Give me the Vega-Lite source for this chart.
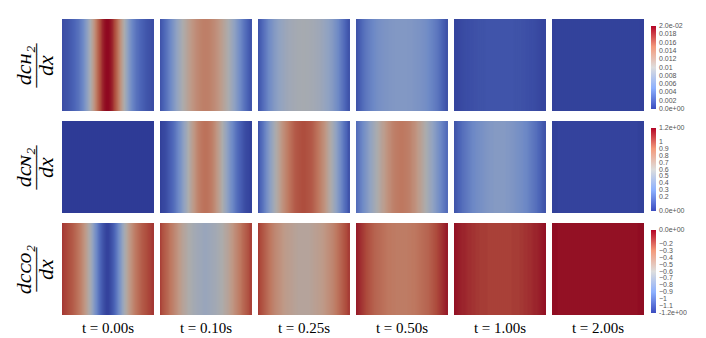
{
"$schema": "https://vega.github.io/schema/vega-lite/v6.json",
"background": "white",
"padding": {"left": 12, "top": 19, "right": 0, "bottom": 0},
"autosize": {"type": "pad"},
"config": {"view": {"stroke": null}, "font": "Liberation Sans"},
"spacing": 9,
"resolve": {"scale": {"fill": "independent", "stroke": "independent", "y": "independent"}, "legend": {"fill": "independent", "stroke": "independent"}},
"datasets": {
"h2": [
{"t":"0.00","i":0,"v":0.0011},{"t":"0.00","i":1,"v":0.0013},{"t":"0.00","i":2,"v":0.0014},{"t":"0.00","i":3,"v":0.0016},{"t":"0.00","i":4,"v":0.0019},{"t":"0.00","i":5,"v":0.0022},{"t":"0.00","i":6,"v":0.0025},{"t":"0.00","i":7,"v":0.003},{"t":"0.00","i":8,"v":0.0034},{"t":"0.00","i":9,"v":0.0041},{"t":"0.00","i":10,"v":0.0048},{"t":"0.00","i":11,"v":0.0058},{"t":"0.00","i":12,"v":0.0069},{"t":"0.00","i":13,"v":0.0083},{"t":"0.00","i":14,"v":0.0098},{"t":"0.00","i":15,"v":0.0114},{"t":"0.00","i":16,"v":0.0131},{"t":"0.00","i":17,"v":0.0148},{"t":"0.00","i":18,"v":0.0163},{"t":"0.00","i":19,"v":0.0176},{"t":"0.00","i":20,"v":0.0187},{"t":"0.00","i":21,"v":0.0194},{"t":"0.00","i":22,"v":0.0198},{"t":"0.00","i":23,"v":0.0198},{"t":"0.00","i":24,"v":0.0194},{"t":"0.00","i":25,"v":0.0187},{"t":"0.00","i":26,"v":0.0176},{"t":"0.00","i":27,"v":0.0163},{"t":"0.00","i":28,"v":0.0148},{"t":"0.00","i":29,"v":0.0131},{"t":"0.00","i":30,"v":0.0114},{"t":"0.00","i":31,"v":0.0098},{"t":"0.00","i":32,"v":0.0083},{"t":"0.00","i":33,"v":0.0069},{"t":"0.00","i":34,"v":0.0058},{"t":"0.00","i":35,"v":0.0048},{"t":"0.00","i":36,"v":0.0041},{"t":"0.00","i":37,"v":0.0034},{"t":"0.00","i":38,"v":0.003},{"t":"0.00","i":39,"v":0.0025},{"t":"0.00","i":40,"v":0.0022},{"t":"0.00","i":41,"v":0.0019},{"t":"0.00","i":42,"v":0.0016},{"t":"0.00","i":43,"v":0.0014},{"t":"0.00","i":44,"v":0.0013},{"t":"0.00","i":45,"v":0.0011},
{"t":"0.10","i":0,"v":0.0015},{"t":"0.10","i":1,"v":0.0021},{"t":"0.10","i":2,"v":0.0027},{"t":"0.10","i":3,"v":0.0034},{"t":"0.10","i":4,"v":0.0042},{"t":"0.10","i":5,"v":0.005},{"t":"0.10","i":6,"v":0.0058},{"t":"0.10","i":7,"v":0.0066},{"t":"0.10","i":8,"v":0.0074},{"t":"0.10","i":9,"v":0.0082},{"t":"0.10","i":10,"v":0.009},{"t":"0.10","i":11,"v":0.0098},{"t":"0.10","i":12,"v":0.0105},{"t":"0.10","i":13,"v":0.0111},{"t":"0.10","i":14,"v":0.0117},{"t":"0.10","i":15,"v":0.0123},{"t":"0.10","i":16,"v":0.0128},{"t":"0.10","i":17,"v":0.0132},{"t":"0.10","i":18,"v":0.0136},{"t":"0.10","i":19,"v":0.0139},{"t":"0.10","i":20,"v":0.0142},{"t":"0.10","i":21,"v":0.0144},{"t":"0.10","i":22,"v":0.0145},{"t":"0.10","i":23,"v":0.0145},{"t":"0.10","i":24,"v":0.0144},{"t":"0.10","i":25,"v":0.0142},{"t":"0.10","i":26,"v":0.0139},{"t":"0.10","i":27,"v":0.0136},{"t":"0.10","i":28,"v":0.0132},{"t":"0.10","i":29,"v":0.0128},{"t":"0.10","i":30,"v":0.0123},{"t":"0.10","i":31,"v":0.0117},{"t":"0.10","i":32,"v":0.0111},{"t":"0.10","i":33,"v":0.0105},{"t":"0.10","i":34,"v":0.0098},{"t":"0.10","i":35,"v":0.009},{"t":"0.10","i":36,"v":0.0082},{"t":"0.10","i":37,"v":0.0074},{"t":"0.10","i":38,"v":0.0066},{"t":"0.10","i":39,"v":0.0058},{"t":"0.10","i":40,"v":0.005},{"t":"0.10","i":41,"v":0.0042},{"t":"0.10","i":42,"v":0.0034},{"t":"0.10","i":43,"v":0.0027},{"t":"0.10","i":44,"v":0.0021},{"t":"0.10","i":45,"v":0.0015},
{"t":"0.25","i":0,"v":0.0015},{"t":"0.25","i":1,"v":0.0021},{"t":"0.25","i":2,"v":0.0028},{"t":"0.25","i":3,"v":0.0035},{"t":"0.25","i":4,"v":0.0042},{"t":"0.25","i":5,"v":0.0049},{"t":"0.25","i":6,"v":0.0055},{"t":"0.25","i":7,"v":0.006},{"t":"0.25","i":8,"v":0.0066},{"t":"0.25","i":9,"v":0.007},{"t":"0.25","i":10,"v":0.0074},{"t":"0.25","i":11,"v":0.0077},{"t":"0.25","i":12,"v":0.008},{"t":"0.25","i":13,"v":0.0083},{"t":"0.25","i":14,"v":0.0086},{"t":"0.25","i":15,"v":0.0088},{"t":"0.25","i":16,"v":0.0089},{"t":"0.25","i":17,"v":0.0091},{"t":"0.25","i":18,"v":0.0092},{"t":"0.25","i":19,"v":0.0093},{"t":"0.25","i":20,"v":0.0094},{"t":"0.25","i":21,"v":0.0094},{"t":"0.25","i":22,"v":0.0095},{"t":"0.25","i":23,"v":0.0095},{"t":"0.25","i":24,"v":0.0094},{"t":"0.25","i":25,"v":0.0094},{"t":"0.25","i":26,"v":0.0093},{"t":"0.25","i":27,"v":0.0092},{"t":"0.25","i":28,"v":0.0091},{"t":"0.25","i":29,"v":0.0089},{"t":"0.25","i":30,"v":0.0088},{"t":"0.25","i":31,"v":0.0086},{"t":"0.25","i":32,"v":0.0083},{"t":"0.25","i":33,"v":0.008},{"t":"0.25","i":34,"v":0.0077},{"t":"0.25","i":35,"v":0.0074},{"t":"0.25","i":36,"v":0.007},{"t":"0.25","i":37,"v":0.0066},{"t":"0.25","i":38,"v":0.006},{"t":"0.25","i":39,"v":0.0055},{"t":"0.25","i":40,"v":0.0049},{"t":"0.25","i":41,"v":0.0042},{"t":"0.25","i":42,"v":0.0035},{"t":"0.25","i":43,"v":0.0028},{"t":"0.25","i":44,"v":0.0021},{"t":"0.25","i":45,"v":0.0015},
{"t":"0.50","i":0,"v":0.0014},{"t":"0.50","i":1,"v":0.0019},{"t":"0.50","i":2,"v":0.0023},{"t":"0.50","i":3,"v":0.0029},{"t":"0.50","i":4,"v":0.0034},{"t":"0.50","i":5,"v":0.0038},{"t":"0.50","i":6,"v":0.0042},{"t":"0.50","i":7,"v":0.0045},{"t":"0.50","i":8,"v":0.0048},{"t":"0.50","i":9,"v":0.0051},{"t":"0.50","i":10,"v":0.0054},{"t":"0.50","i":11,"v":0.0056},{"t":"0.50","i":12,"v":0.0057},{"t":"0.50","i":13,"v":0.0059},{"t":"0.50","i":14,"v":0.006},{"t":"0.50","i":15,"v":0.0061},{"t":"0.50","i":16,"v":0.0062},{"t":"0.50","i":17,"v":0.0063},{"t":"0.50","i":18,"v":0.0064},{"t":"0.50","i":19,"v":0.0064},{"t":"0.50","i":20,"v":0.0065},{"t":"0.50","i":21,"v":0.0065},{"t":"0.50","i":22,"v":0.0065},{"t":"0.50","i":23,"v":0.0065},{"t":"0.50","i":24,"v":0.0065},{"t":"0.50","i":25,"v":0.0065},{"t":"0.50","i":26,"v":0.0064},{"t":"0.50","i":27,"v":0.0064},{"t":"0.50","i":28,"v":0.0063},{"t":"0.50","i":29,"v":0.0062},{"t":"0.50","i":30,"v":0.0061},{"t":"0.50","i":31,"v":0.006},{"t":"0.50","i":32,"v":0.0059},{"t":"0.50","i":33,"v":0.0057},{"t":"0.50","i":34,"v":0.0056},{"t":"0.50","i":35,"v":0.0054},{"t":"0.50","i":36,"v":0.0051},{"t":"0.50","i":37,"v":0.0048},{"t":"0.50","i":38,"v":0.0045},{"t":"0.50","i":39,"v":0.0042},{"t":"0.50","i":40,"v":0.0038},{"t":"0.50","i":41,"v":0.0034},{"t":"0.50","i":42,"v":0.0029},{"t":"0.50","i":43,"v":0.0023},{"t":"0.50","i":44,"v":0.0019},{"t":"0.50","i":45,"v":0.0014},
{"t":"1.00","i":0,"v":0.0006},{"t":"1.00","i":1,"v":0.0006},{"t":"1.00","i":2,"v":0.0007},{"t":"1.00","i":3,"v":0.0008},{"t":"1.00","i":4,"v":0.0009},{"t":"1.00","i":5,"v":0.001},{"t":"1.00","i":6,"v":0.0011},{"t":"1.00","i":7,"v":0.0011},{"t":"1.00","i":8,"v":0.0012},{"t":"1.00","i":9,"v":0.0012},{"t":"1.00","i":10,"v":0.0013},{"t":"1.00","i":11,"v":0.0013},{"t":"1.00","i":12,"v":0.0014},{"t":"1.00","i":13,"v":0.0014},{"t":"1.00","i":14,"v":0.0014},{"t":"1.00","i":15,"v":0.0014},{"t":"1.00","i":16,"v":0.0015},{"t":"1.00","i":17,"v":0.0015},{"t":"1.00","i":18,"v":0.0015},{"t":"1.00","i":19,"v":0.0015},{"t":"1.00","i":20,"v":0.0015},{"t":"1.00","i":21,"v":0.0015},{"t":"1.00","i":22,"v":0.0015},{"t":"1.00","i":23,"v":0.0015},{"t":"1.00","i":24,"v":0.0015},{"t":"1.00","i":25,"v":0.0015},{"t":"1.00","i":26,"v":0.0015},{"t":"1.00","i":27,"v":0.0015},{"t":"1.00","i":28,"v":0.0015},{"t":"1.00","i":29,"v":0.0015},{"t":"1.00","i":30,"v":0.0014},{"t":"1.00","i":31,"v":0.0014},{"t":"1.00","i":32,"v":0.0014},{"t":"1.00","i":33,"v":0.0014},{"t":"1.00","i":34,"v":0.0013},{"t":"1.00","i":35,"v":0.0013},{"t":"1.00","i":36,"v":0.0012},{"t":"1.00","i":37,"v":0.0012},{"t":"1.00","i":38,"v":0.0011},{"t":"1.00","i":39,"v":0.0011},{"t":"1.00","i":40,"v":0.001},{"t":"1.00","i":41,"v":0.0009},{"t":"1.00","i":42,"v":0.0008},{"t":"1.00","i":43,"v":0.0007},{"t":"1.00","i":44,"v":0.0006},{"t":"1.00","i":45,"v":0.0006},
{"t":"2.00","i":0,"v":0.0003},{"t":"2.00","i":1,"v":0.0003},{"t":"2.00","i":2,"v":0.0004},{"t":"2.00","i":3,"v":0.0004},{"t":"2.00","i":4,"v":0.0004},{"t":"2.00","i":5,"v":0.0004},{"t":"2.00","i":6,"v":0.0004},{"t":"2.00","i":7,"v":0.0004},{"t":"2.00","i":8,"v":0.0004},{"t":"2.00","i":9,"v":0.0004},{"t":"2.00","i":10,"v":0.0004},{"t":"2.00","i":11,"v":0.0004},{"t":"2.00","i":12,"v":0.0004},{"t":"2.00","i":13,"v":0.0004},{"t":"2.00","i":14,"v":0.0004},{"t":"2.00","i":15,"v":0.0004},{"t":"2.00","i":16,"v":0.0004},{"t":"2.00","i":17,"v":0.0004},{"t":"2.00","i":18,"v":0.0004},{"t":"2.00","i":19,"v":0.0004},{"t":"2.00","i":20,"v":0.0004},{"t":"2.00","i":21,"v":0.0004},{"t":"2.00","i":22,"v":0.0004},{"t":"2.00","i":23,"v":0.0004},{"t":"2.00","i":24,"v":0.0004},{"t":"2.00","i":25,"v":0.0004},{"t":"2.00","i":26,"v":0.0004},{"t":"2.00","i":27,"v":0.0004},{"t":"2.00","i":28,"v":0.0004},{"t":"2.00","i":29,"v":0.0004},{"t":"2.00","i":30,"v":0.0004},{"t":"2.00","i":31,"v":0.0004},{"t":"2.00","i":32,"v":0.0004},{"t":"2.00","i":33,"v":0.0004},{"t":"2.00","i":34,"v":0.0004},{"t":"2.00","i":35,"v":0.0004},{"t":"2.00","i":36,"v":0.0004},{"t":"2.00","i":37,"v":0.0004},{"t":"2.00","i":38,"v":0.0004},{"t":"2.00","i":39,"v":0.0004},{"t":"2.00","i":40,"v":0.0004},{"t":"2.00","i":41,"v":0.0004},{"t":"2.00","i":42,"v":0.0004},{"t":"2.00","i":43,"v":0.0004},{"t":"2.00","i":44,"v":0.0003},{"t":"2.00","i":45,"v":0.0003}
],
"n2": [
{"t":"0.00","i":0,"v":0},{"t":"0.00","i":1,"v":0},{"t":"0.00","i":2,"v":0},{"t":"0.00","i":3,"v":0},{"t":"0.00","i":4,"v":0},{"t":"0.00","i":5,"v":0},{"t":"0.00","i":6,"v":0},{"t":"0.00","i":7,"v":0},{"t":"0.00","i":8,"v":0},{"t":"0.00","i":9,"v":0},{"t":"0.00","i":10,"v":0},{"t":"0.00","i":11,"v":0},{"t":"0.00","i":12,"v":0},{"t":"0.00","i":13,"v":0},{"t":"0.00","i":14,"v":0},{"t":"0.00","i":15,"v":0},{"t":"0.00","i":16,"v":0},{"t":"0.00","i":17,"v":0},{"t":"0.00","i":18,"v":0},{"t":"0.00","i":19,"v":0},{"t":"0.00","i":20,"v":0},{"t":"0.00","i":21,"v":0},{"t":"0.00","i":22,"v":0},{"t":"0.00","i":23,"v":0},{"t":"0.00","i":24,"v":0},{"t":"0.00","i":25,"v":0},{"t":"0.00","i":26,"v":0},{"t":"0.00","i":27,"v":0},{"t":"0.00","i":28,"v":0},{"t":"0.00","i":29,"v":0},{"t":"0.00","i":30,"v":0},{"t":"0.00","i":31,"v":0},{"t":"0.00","i":32,"v":0},{"t":"0.00","i":33,"v":0},{"t":"0.00","i":34,"v":0},{"t":"0.00","i":35,"v":0},{"t":"0.00","i":36,"v":0},{"t":"0.00","i":37,"v":0},{"t":"0.00","i":38,"v":0},{"t":"0.00","i":39,"v":0},{"t":"0.00","i":40,"v":0},{"t":"0.00","i":41,"v":0},{"t":"0.00","i":42,"v":0},{"t":"0.00","i":43,"v":0},{"t":"0.00","i":44,"v":0},{"t":"0.00","i":45,"v":0},
{"t":"0.10","i":0,"v":0.02},{"t":"0.10","i":1,"v":0.04},{"t":"0.10","i":2,"v":0.05},{"t":"0.10","i":3,"v":0.07},{"t":"0.10","i":4,"v":0.1},{"t":"0.10","i":5,"v":0.13},{"t":"0.10","i":6,"v":0.16},{"t":"0.10","i":7,"v":0.2},{"t":"0.10","i":8,"v":0.25},{"t":"0.10","i":9,"v":0.3},{"t":"0.10","i":10,"v":0.35},{"t":"0.10","i":11,"v":0.41},{"t":"0.10","i":12,"v":0.47},{"t":"0.10","i":13,"v":0.53},{"t":"0.10","i":14,"v":0.6},{"t":"0.10","i":15,"v":0.66},{"t":"0.10","i":16,"v":0.72},{"t":"0.10","i":17,"v":0.77},{"t":"0.10","i":18,"v":0.82},{"t":"0.10","i":19,"v":0.86},{"t":"0.10","i":20,"v":0.89},{"t":"0.10","i":21,"v":0.91},{"t":"0.10","i":22,"v":0.92},{"t":"0.10","i":23,"v":0.92},{"t":"0.10","i":24,"v":0.91},{"t":"0.10","i":25,"v":0.89},{"t":"0.10","i":26,"v":0.86},{"t":"0.10","i":27,"v":0.82},{"t":"0.10","i":28,"v":0.77},{"t":"0.10","i":29,"v":0.72},{"t":"0.10","i":30,"v":0.66},{"t":"0.10","i":31,"v":0.6},{"t":"0.10","i":32,"v":0.53},{"t":"0.10","i":33,"v":0.47},{"t":"0.10","i":34,"v":0.41},{"t":"0.10","i":35,"v":0.35},{"t":"0.10","i":36,"v":0.3},{"t":"0.10","i":37,"v":0.25},{"t":"0.10","i":38,"v":0.2},{"t":"0.10","i":39,"v":0.16},{"t":"0.10","i":40,"v":0.13},{"t":"0.10","i":41,"v":0.1},{"t":"0.10","i":42,"v":0.07},{"t":"0.10","i":43,"v":0.05},{"t":"0.10","i":44,"v":0.04},{"t":"0.10","i":45,"v":0.02},
{"t":"0.25","i":0,"v":0.09},{"t":"0.25","i":1,"v":0.15},{"t":"0.25","i":2,"v":0.2},{"t":"0.25","i":3,"v":0.26},{"t":"0.25","i":4,"v":0.32},{"t":"0.25","i":5,"v":0.38},{"t":"0.25","i":6,"v":0.44},{"t":"0.25","i":7,"v":0.5},{"t":"0.25","i":8,"v":0.56},{"t":"0.25","i":9,"v":0.62},{"t":"0.25","i":10,"v":0.67},{"t":"0.25","i":11,"v":0.73},{"t":"0.25","i":12,"v":0.78},{"t":"0.25","i":13,"v":0.82},{"t":"0.25","i":14,"v":0.86},{"t":"0.25","i":15,"v":0.9},{"t":"0.25","i":16,"v":0.93},{"t":"0.25","i":17,"v":0.96},{"t":"0.25","i":18,"v":0.99},{"t":"0.25","i":19,"v":1.01},{"t":"0.25","i":20,"v":1.02},{"t":"0.25","i":21,"v":1.03},{"t":"0.25","i":22,"v":1.04},{"t":"0.25","i":23,"v":1.04},{"t":"0.25","i":24,"v":1.03},{"t":"0.25","i":25,"v":1.02},{"t":"0.25","i":26,"v":1.01},{"t":"0.25","i":27,"v":0.99},{"t":"0.25","i":28,"v":0.96},{"t":"0.25","i":29,"v":0.93},{"t":"0.25","i":30,"v":0.9},{"t":"0.25","i":31,"v":0.86},{"t":"0.25","i":32,"v":0.82},{"t":"0.25","i":33,"v":0.78},{"t":"0.25","i":34,"v":0.73},{"t":"0.25","i":35,"v":0.67},{"t":"0.25","i":36,"v":0.62},{"t":"0.25","i":37,"v":0.56},{"t":"0.25","i":38,"v":0.5},{"t":"0.25","i":39,"v":0.44},{"t":"0.25","i":40,"v":0.38},{"t":"0.25","i":41,"v":0.32},{"t":"0.25","i":42,"v":0.26},{"t":"0.25","i":43,"v":0.2},{"t":"0.25","i":44,"v":0.15},{"t":"0.25","i":45,"v":0.09},
{"t":"0.50","i":0,"v":0.18},{"t":"0.50","i":1,"v":0.22},{"t":"0.50","i":2,"v":0.26},{"t":"0.50","i":3,"v":0.3},{"t":"0.50","i":4,"v":0.34},{"t":"0.50","i":5,"v":0.38},{"t":"0.50","i":6,"v":0.42},{"t":"0.50","i":7,"v":0.46},{"t":"0.50","i":8,"v":0.5},{"t":"0.50","i":9,"v":0.54},{"t":"0.50","i":10,"v":0.58},{"t":"0.50","i":11,"v":0.62},{"t":"0.50","i":12,"v":0.66},{"t":"0.50","i":13,"v":0.7},{"t":"0.50","i":14,"v":0.73},{"t":"0.50","i":15,"v":0.77},{"t":"0.50","i":16,"v":0.8},{"t":"0.50","i":17,"v":0.82},{"t":"0.50","i":18,"v":0.85},{"t":"0.50","i":19,"v":0.87},{"t":"0.50","i":20,"v":0.88},{"t":"0.50","i":21,"v":0.89},{"t":"0.50","i":22,"v":0.9},{"t":"0.50","i":23,"v":0.9},{"t":"0.50","i":24,"v":0.89},{"t":"0.50","i":25,"v":0.88},{"t":"0.50","i":26,"v":0.87},{"t":"0.50","i":27,"v":0.85},{"t":"0.50","i":28,"v":0.82},{"t":"0.50","i":29,"v":0.8},{"t":"0.50","i":30,"v":0.77},{"t":"0.50","i":31,"v":0.73},{"t":"0.50","i":32,"v":0.7},{"t":"0.50","i":33,"v":0.66},{"t":"0.50","i":34,"v":0.62},{"t":"0.50","i":35,"v":0.58},{"t":"0.50","i":36,"v":0.54},{"t":"0.50","i":37,"v":0.5},{"t":"0.50","i":38,"v":0.46},{"t":"0.50","i":39,"v":0.42},{"t":"0.50","i":40,"v":0.38},{"t":"0.50","i":41,"v":0.34},{"t":"0.50","i":42,"v":0.3},{"t":"0.50","i":43,"v":0.26},{"t":"0.50","i":44,"v":0.22},{"t":"0.50","i":45,"v":0.18},
{"t":"1.00","i":0,"v":0.09},{"t":"1.00","i":1,"v":0.11},{"t":"1.00","i":2,"v":0.14},{"t":"1.00","i":3,"v":0.16},{"t":"1.00","i":4,"v":0.19},{"t":"1.00","i":5,"v":0.21},{"t":"1.00","i":6,"v":0.23},{"t":"1.00","i":7,"v":0.25},{"t":"1.00","i":8,"v":0.27},{"t":"1.00","i":9,"v":0.29},{"t":"1.00","i":10,"v":0.3},{"t":"1.00","i":11,"v":0.32},{"t":"1.00","i":12,"v":0.33},{"t":"1.00","i":13,"v":0.34},{"t":"1.00","i":14,"v":0.35},{"t":"1.00","i":15,"v":0.36},{"t":"1.00","i":16,"v":0.37},{"t":"1.00","i":17,"v":0.38},{"t":"1.00","i":18,"v":0.39},{"t":"1.00","i":19,"v":0.39},{"t":"1.00","i":20,"v":0.4},{"t":"1.00","i":21,"v":0.4},{"t":"1.00","i":22,"v":0.4},{"t":"1.00","i":23,"v":0.4},{"t":"1.00","i":24,"v":0.4},{"t":"1.00","i":25,"v":0.4},{"t":"1.00","i":26,"v":0.39},{"t":"1.00","i":27,"v":0.39},{"t":"1.00","i":28,"v":0.38},{"t":"1.00","i":29,"v":0.37},{"t":"1.00","i":30,"v":0.36},{"t":"1.00","i":31,"v":0.35},{"t":"1.00","i":32,"v":0.34},{"t":"1.00","i":33,"v":0.33},{"t":"1.00","i":34,"v":0.32},{"t":"1.00","i":35,"v":0.3},{"t":"1.00","i":36,"v":0.29},{"t":"1.00","i":37,"v":0.27},{"t":"1.00","i":38,"v":0.25},{"t":"1.00","i":39,"v":0.23},{"t":"1.00","i":40,"v":0.21},{"t":"1.00","i":41,"v":0.19},{"t":"1.00","i":42,"v":0.16},{"t":"1.00","i":43,"v":0.14},{"t":"1.00","i":44,"v":0.11},{"t":"1.00","i":45,"v":0.09},
{"t":"2.00","i":0,"v":0.02},{"t":"2.00","i":1,"v":0.02},{"t":"2.00","i":2,"v":0.02},{"t":"2.00","i":3,"v":0.03},{"t":"2.00","i":4,"v":0.03},{"t":"2.00","i":5,"v":0.03},{"t":"2.00","i":6,"v":0.03},{"t":"2.00","i":7,"v":0.03},{"t":"2.00","i":8,"v":0.03},{"t":"2.00","i":9,"v":0.03},{"t":"2.00","i":10,"v":0.03},{"t":"2.00","i":11,"v":0.03},{"t":"2.00","i":12,"v":0.03},{"t":"2.00","i":13,"v":0.03},{"t":"2.00","i":14,"v":0.03},{"t":"2.00","i":15,"v":0.03},{"t":"2.00","i":16,"v":0.03},{"t":"2.00","i":17,"v":0.03},{"t":"2.00","i":18,"v":0.03},{"t":"2.00","i":19,"v":0.03},{"t":"2.00","i":20,"v":0.03},{"t":"2.00","i":21,"v":0.03},{"t":"2.00","i":22,"v":0.03},{"t":"2.00","i":23,"v":0.03},{"t":"2.00","i":24,"v":0.03},{"t":"2.00","i":25,"v":0.03},{"t":"2.00","i":26,"v":0.03},{"t":"2.00","i":27,"v":0.03},{"t":"2.00","i":28,"v":0.03},{"t":"2.00","i":29,"v":0.03},{"t":"2.00","i":30,"v":0.03},{"t":"2.00","i":31,"v":0.03},{"t":"2.00","i":32,"v":0.03},{"t":"2.00","i":33,"v":0.03},{"t":"2.00","i":34,"v":0.03},{"t":"2.00","i":35,"v":0.03},{"t":"2.00","i":36,"v":0.03},{"t":"2.00","i":37,"v":0.03},{"t":"2.00","i":38,"v":0.03},{"t":"2.00","i":39,"v":0.03},{"t":"2.00","i":40,"v":0.03},{"t":"2.00","i":41,"v":0.03},{"t":"2.00","i":42,"v":0.03},{"t":"2.00","i":43,"v":0.02},{"t":"2.00","i":44,"v":0.02},{"t":"2.00","i":45,"v":0.02}
],
"co2": [
{"t":"0.00","i":0,"v":-0.11},{"t":"0.00","i":1,"v":-0.13},{"t":"0.00","i":2,"v":-0.14},{"t":"0.00","i":3,"v":-0.16},{"t":"0.00","i":4,"v":-0.18},{"t":"0.00","i":5,"v":-0.2},{"t":"0.00","i":6,"v":-0.23},{"t":"0.00","i":7,"v":-0.26},{"t":"0.00","i":8,"v":-0.29},{"t":"0.00","i":9,"v":-0.33},{"t":"0.00","i":10,"v":-0.38},{"t":"0.00","i":11,"v":-0.43},{"t":"0.00","i":12,"v":-0.49},{"t":"0.00","i":13,"v":-0.56},{"t":"0.00","i":14,"v":-0.64},{"t":"0.00","i":15,"v":-0.73},{"t":"0.00","i":16,"v":-0.82},{"t":"0.00","i":17,"v":-0.9},{"t":"0.00","i":18,"v":-0.98},{"t":"0.00","i":19,"v":-1.05},{"t":"0.00","i":20,"v":-1.1},{"t":"0.00","i":21,"v":-1.14},{"t":"0.00","i":22,"v":-1.17},{"t":"0.00","i":23,"v":-1.17},{"t":"0.00","i":24,"v":-1.14},{"t":"0.00","i":25,"v":-1.1},{"t":"0.00","i":26,"v":-1.05},{"t":"0.00","i":27,"v":-0.98},{"t":"0.00","i":28,"v":-0.9},{"t":"0.00","i":29,"v":-0.82},{"t":"0.00","i":30,"v":-0.73},{"t":"0.00","i":31,"v":-0.64},{"t":"0.00","i":32,"v":-0.56},{"t":"0.00","i":33,"v":-0.49},{"t":"0.00","i":34,"v":-0.43},{"t":"0.00","i":35,"v":-0.38},{"t":"0.00","i":36,"v":-0.33},{"t":"0.00","i":37,"v":-0.29},{"t":"0.00","i":38,"v":-0.26},{"t":"0.00","i":39,"v":-0.23},{"t":"0.00","i":40,"v":-0.2},{"t":"0.00","i":41,"v":-0.18},{"t":"0.00","i":42,"v":-0.16},{"t":"0.00","i":43,"v":-0.14},{"t":"0.00","i":44,"v":-0.13},{"t":"0.00","i":45,"v":-0.11},
{"t":"0.10","i":0,"v":-0.13},{"t":"0.10","i":1,"v":-0.17},{"t":"0.10","i":2,"v":-0.2},{"t":"0.10","i":3,"v":-0.23},{"t":"0.10","i":4,"v":-0.26},{"t":"0.10","i":5,"v":-0.3},{"t":"0.10","i":6,"v":-0.33},{"t":"0.10","i":7,"v":-0.37},{"t":"0.10","i":8,"v":-0.4},{"t":"0.10","i":9,"v":-0.44},{"t":"0.10","i":10,"v":-0.47},{"t":"0.10","i":11,"v":-0.51},{"t":"0.10","i":12,"v":-0.54},{"t":"0.10","i":13,"v":-0.56},{"t":"0.10","i":14,"v":-0.59},{"t":"0.10","i":15,"v":-0.61},{"t":"0.10","i":16,"v":-0.63},{"t":"0.10","i":17,"v":-0.65},{"t":"0.10","i":18,"v":-0.66},{"t":"0.10","i":19,"v":-0.67},{"t":"0.10","i":20,"v":-0.68},{"t":"0.10","i":21,"v":-0.69},{"t":"0.10","i":22,"v":-0.7},{"t":"0.10","i":23,"v":-0.7},{"t":"0.10","i":24,"v":-0.69},{"t":"0.10","i":25,"v":-0.68},{"t":"0.10","i":26,"v":-0.67},{"t":"0.10","i":27,"v":-0.66},{"t":"0.10","i":28,"v":-0.65},{"t":"0.10","i":29,"v":-0.63},{"t":"0.10","i":30,"v":-0.61},{"t":"0.10","i":31,"v":-0.59},{"t":"0.10","i":32,"v":-0.56},{"t":"0.10","i":33,"v":-0.54},{"t":"0.10","i":34,"v":-0.51},{"t":"0.10","i":35,"v":-0.47},{"t":"0.10","i":36,"v":-0.44},{"t":"0.10","i":37,"v":-0.4},{"t":"0.10","i":38,"v":-0.37},{"t":"0.10","i":39,"v":-0.33},{"t":"0.10","i":40,"v":-0.3},{"t":"0.10","i":41,"v":-0.26},{"t":"0.10","i":42,"v":-0.23},{"t":"0.10","i":43,"v":-0.2},{"t":"0.10","i":44,"v":-0.17},{"t":"0.10","i":45,"v":-0.13},
{"t":"0.25","i":0,"v":-0.12},{"t":"0.25","i":1,"v":-0.15},{"t":"0.25","i":2,"v":-0.18},{"t":"0.25","i":3,"v":-0.21},{"t":"0.25","i":4,"v":-0.24},{"t":"0.25","i":5,"v":-0.27},{"t":"0.25","i":6,"v":-0.3},{"t":"0.25","i":7,"v":-0.33},{"t":"0.25","i":8,"v":-0.36},{"t":"0.25","i":9,"v":-0.38},{"t":"0.25","i":10,"v":-0.4},{"t":"0.25","i":11,"v":-0.42},{"t":"0.25","i":12,"v":-0.44},{"t":"0.25","i":13,"v":-0.46},{"t":"0.25","i":14,"v":-0.47},{"t":"0.25","i":15,"v":-0.48},{"t":"0.25","i":16,"v":-0.49},{"t":"0.25","i":17,"v":-0.5},{"t":"0.25","i":18,"v":-0.51},{"t":"0.25","i":19,"v":-0.52},{"t":"0.25","i":20,"v":-0.53},{"t":"0.25","i":21,"v":-0.53},{"t":"0.25","i":22,"v":-0.53},{"t":"0.25","i":23,"v":-0.53},{"t":"0.25","i":24,"v":-0.53},{"t":"0.25","i":25,"v":-0.53},{"t":"0.25","i":26,"v":-0.52},{"t":"0.25","i":27,"v":-0.51},{"t":"0.25","i":28,"v":-0.5},{"t":"0.25","i":29,"v":-0.49},{"t":"0.25","i":30,"v":-0.48},{"t":"0.25","i":31,"v":-0.47},{"t":"0.25","i":32,"v":-0.46},{"t":"0.25","i":33,"v":-0.44},{"t":"0.25","i":34,"v":-0.42},{"t":"0.25","i":35,"v":-0.4},{"t":"0.25","i":36,"v":-0.38},{"t":"0.25","i":37,"v":-0.36},{"t":"0.25","i":38,"v":-0.33},{"t":"0.25","i":39,"v":-0.3},{"t":"0.25","i":40,"v":-0.27},{"t":"0.25","i":41,"v":-0.24},{"t":"0.25","i":42,"v":-0.21},{"t":"0.25","i":43,"v":-0.18},{"t":"0.25","i":44,"v":-0.15},{"t":"0.25","i":45,"v":-0.12},
{"t":"0.50","i":0,"v":-0.05},{"t":"0.50","i":1,"v":-0.07},{"t":"0.50","i":2,"v":-0.09},{"t":"0.50","i":3,"v":-0.11},{"t":"0.50","i":4,"v":-0.13},{"t":"0.50","i":5,"v":-0.15},{"t":"0.50","i":6,"v":-0.17},{"t":"0.50","i":7,"v":-0.19},{"t":"0.50","i":8,"v":-0.21},{"t":"0.50","i":9,"v":-0.23},{"t":"0.50","i":10,"v":-0.24},{"t":"0.50","i":11,"v":-0.25},{"t":"0.50","i":12,"v":-0.26},{"t":"0.50","i":13,"v":-0.27},{"t":"0.50","i":14,"v":-0.28},{"t":"0.50","i":15,"v":-0.29},{"t":"0.50","i":16,"v":-0.3},{"t":"0.50","i":17,"v":-0.3},{"t":"0.50","i":18,"v":-0.31},{"t":"0.50","i":19,"v":-0.31},{"t":"0.50","i":20,"v":-0.32},{"t":"0.50","i":21,"v":-0.32},{"t":"0.50","i":22,"v":-0.32},{"t":"0.50","i":23,"v":-0.32},{"t":"0.50","i":24,"v":-0.32},{"t":"0.50","i":25,"v":-0.32},{"t":"0.50","i":26,"v":-0.31},{"t":"0.50","i":27,"v":-0.31},{"t":"0.50","i":28,"v":-0.3},{"t":"0.50","i":29,"v":-0.3},{"t":"0.50","i":30,"v":-0.29},{"t":"0.50","i":31,"v":-0.28},{"t":"0.50","i":32,"v":-0.27},{"t":"0.50","i":33,"v":-0.26},{"t":"0.50","i":34,"v":-0.25},{"t":"0.50","i":35,"v":-0.24},{"t":"0.50","i":36,"v":-0.23},{"t":"0.50","i":37,"v":-0.21},{"t":"0.50","i":38,"v":-0.19},{"t":"0.50","i":39,"v":-0.17},{"t":"0.50","i":40,"v":-0.15},{"t":"0.50","i":41,"v":-0.13},{"t":"0.50","i":42,"v":-0.11},{"t":"0.50","i":43,"v":-0.09},{"t":"0.50","i":44,"v":-0.07},{"t":"0.50","i":45,"v":-0.05},
{"t":"1.00","i":0,"v":-0.03},{"t":"1.00","i":1,"v":-0.04},{"t":"1.00","i":2,"v":-0.05},{"t":"1.00","i":3,"v":-0.06},{"t":"1.00","i":4,"v":-0.07},{"t":"1.00","i":5,"v":-0.07},{"t":"1.00","i":6,"v":-0.08},{"t":"1.00","i":7,"v":-0.09},{"t":"1.00","i":8,"v":-0.09},{"t":"1.00","i":9,"v":-0.1},{"t":"1.00","i":10,"v":-0.1},{"t":"1.00","i":11,"v":-0.11},{"t":"1.00","i":12,"v":-0.11},{"t":"1.00","i":13,"v":-0.12},{"t":"1.00","i":14,"v":-0.12},{"t":"1.00","i":15,"v":-0.12},{"t":"1.00","i":16,"v":-0.12},{"t":"1.00","i":17,"v":-0.13},{"t":"1.00","i":18,"v":-0.13},{"t":"1.00","i":19,"v":-0.13},{"t":"1.00","i":20,"v":-0.13},{"t":"1.00","i":21,"v":-0.13},{"t":"1.00","i":22,"v":-0.13},{"t":"1.00","i":23,"v":-0.13},{"t":"1.00","i":24,"v":-0.13},{"t":"1.00","i":25,"v":-0.13},{"t":"1.00","i":26,"v":-0.13},{"t":"1.00","i":27,"v":-0.13},{"t":"1.00","i":28,"v":-0.13},{"t":"1.00","i":29,"v":-0.12},{"t":"1.00","i":30,"v":-0.12},{"t":"1.00","i":31,"v":-0.12},{"t":"1.00","i":32,"v":-0.12},{"t":"1.00","i":33,"v":-0.11},{"t":"1.00","i":34,"v":-0.11},{"t":"1.00","i":35,"v":-0.1},{"t":"1.00","i":36,"v":-0.1},{"t":"1.00","i":37,"v":-0.09},{"t":"1.00","i":38,"v":-0.09},{"t":"1.00","i":39,"v":-0.08},{"t":"1.00","i":40,"v":-0.07},{"t":"1.00","i":41,"v":-0.07},{"t":"1.00","i":42,"v":-0.06},{"t":"1.00","i":43,"v":-0.05},{"t":"1.00","i":44,"v":-0.04},{"t":"1.00","i":45,"v":-0.03},
{"t":"2.00","i":0,"v":-0.02},{"t":"2.00","i":1,"v":-0.02},{"t":"2.00","i":2,"v":-0.02},{"t":"2.00","i":3,"v":-0.03},{"t":"2.00","i":4,"v":-0.03},{"t":"2.00","i":5,"v":-0.03},{"t":"2.00","i":6,"v":-0.03},{"t":"2.00","i":7,"v":-0.03},{"t":"2.00","i":8,"v":-0.03},{"t":"2.00","i":9,"v":-0.03},{"t":"2.00","i":10,"v":-0.03},{"t":"2.00","i":11,"v":-0.03},{"t":"2.00","i":12,"v":-0.03},{"t":"2.00","i":13,"v":-0.03},{"t":"2.00","i":14,"v":-0.03},{"t":"2.00","i":15,"v":-0.03},{"t":"2.00","i":16,"v":-0.03},{"t":"2.00","i":17,"v":-0.03},{"t":"2.00","i":18,"v":-0.03},{"t":"2.00","i":19,"v":-0.03},{"t":"2.00","i":20,"v":-0.03},{"t":"2.00","i":21,"v":-0.03},{"t":"2.00","i":22,"v":-0.03},{"t":"2.00","i":23,"v":-0.03},{"t":"2.00","i":24,"v":-0.03},{"t":"2.00","i":25,"v":-0.03},{"t":"2.00","i":26,"v":-0.03},{"t":"2.00","i":27,"v":-0.03},{"t":"2.00","i":28,"v":-0.03},{"t":"2.00","i":29,"v":-0.03},{"t":"2.00","i":30,"v":-0.03},{"t":"2.00","i":31,"v":-0.03},{"t":"2.00","i":32,"v":-0.03},{"t":"2.00","i":33,"v":-0.03},{"t":"2.00","i":34,"v":-0.03},{"t":"2.00","i":35,"v":-0.03},{"t":"2.00","i":36,"v":-0.03},{"t":"2.00","i":37,"v":-0.03},{"t":"2.00","i":38,"v":-0.03},{"t":"2.00","i":39,"v":-0.03},{"t":"2.00","i":40,"v":-0.03},{"t":"2.00","i":41,"v":-0.03},{"t":"2.00","i":42,"v":-0.03},{"t":"2.00","i":43,"v":-0.02},{"t":"2.00","i":44,"v":-0.02},{"t":"2.00","i":45,"v":-0.02}
]
},
"vconcat": [
{
"data": {"name": "h2"},
"facet": {"column": {"field": "t", "type": "ordinal", "header": {"title": null, "labels": false}}},
"spacing": 6,
"spec": {
"width": 92, "height": 92,
"mark": {"type": "rect", "strokeOpacity": 0, "width": 3, "clip": true},
"encoding": {
"x": {"field": "i", "type": "ordinal", "axis": null, "scale": {"paddingInner": 0, "paddingOuter": 0}},
"y": {"datum": "r", "type": "nominal", "scale": {"paddingInner": 0, "paddingOuter": 0}, "axis": {"title": ["dcʜ₂", "––––", "dx"], "labels": false, "ticks": false, "domain": false, "grid": false, "titleFont": "Liberation Serif", "titleFontStyle": "italic", "titleFontWeight": "normal", "titleFontSize": 22, "titleLineHeight": 11, "titlePadding": 5, "titleColor": "black"}},
"fill": {"field": "v", "type": "quantitative", "legend": null, "scale": {"domain": [0, 0.0025, 0.005, 0.0075, 0.01, 0.0125, 0.015, 0.0175, 0.02], "range": ["#2E3B96", "#4C65B7", "#6E89C6", "#90A2C2", "#ACACAC", "#BF9987", "#BE7860", "#AD4B3C", "#8C031E"], "interpolate": "rgb"}},
"stroke": {"field": "v", "type": "quantitative", "scale": {"domain": [0, 0.005, 0.01, 0.015, 0.02], "range": ["#3B4CC0", "#8DB0FE", "#DDDDDD", "#F49A7B", "#B40426"], "interpolate": "rgb"},
"legend": {"title": null, "orient": "none", "legendX": 589, "legendY": 7, "padding": 0, "direction": "vertical", "gradientLength": 83, "gradientThickness": 5, "gradientStrokeWidth": 0, "values": [0, 0.002, 0.004, 0.006, 0.008, 0.01, 0.012, 0.014, 0.016, 0.018, 0.02], "labelExpr": "datum.value == 0 ? '0.0e+00' : datum.value > 0.0199 ? '2.0e-02' : format(datum.value, '.3~f')", "labelFontSize": 7, "labelColor": "#555", "labelOffset": 3, "labelOverlap": false, "encoding": {"labels": {"baseline": {"value": "middle"}}}}}
}
}
},
{
"data": {"name": "n2"},
"facet": {"column": {"field": "t", "type": "ordinal", "header": {"title": null, "labels": false}}},
"spacing": 6,
"spec": {
"width": 92, "height": 92,
"mark": {"type": "rect", "strokeOpacity": 0, "width": 3, "clip": true},
"encoding": {
"x": {"field": "i", "type": "ordinal", "axis": null, "scale": {"paddingInner": 0, "paddingOuter": 0}},
"y": {"datum": "r", "type": "nominal", "scale": {"paddingInner": 0, "paddingOuter": 0}, "axis": {"title": ["dcɴ₂", "––––", "dx"], "labels": false, "ticks": false, "domain": false, "grid": false, "titleFont": "Liberation Serif", "titleFontStyle": "italic", "titleFontWeight": "normal", "titleFontSize": 22, "titleLineHeight": 11, "titlePadding": 5, "titleColor": "black"}},
"fill": {"field": "v", "type": "quantitative", "legend": null, "scale": {"domain": [0, 0.15, 0.3, 0.45, 0.6, 0.75, 0.9, 1.05, 1.2], "range": ["#2E3B96", "#4C65B7", "#6E89C6", "#90A2C2", "#ACACAC", "#BF9987", "#BE7860", "#AD4B3C", "#8C031E"], "interpolate": "rgb"}},
"stroke": {"field": "v", "type": "quantitative", "scale": {"domain": [0, 0.3, 0.6, 0.9, 1.2], "range": ["#3B4CC0", "#8DB0FE", "#DDDDDD", "#F49A7B", "#B40426"], "interpolate": "rgb"},
"legend": {"title": null, "orient": "none", "legendX": 589, "legendY": 7, "padding": 0, "direction": "vertical", "gradientLength": 83, "gradientThickness": 5, "gradientStrokeWidth": 0, "values": [0, 0.2, 0.3, 0.4, 0.5, 0.6, 0.7, 0.8, 0.9, 1, 1.2], "labelExpr": "datum.value == 0 ? '0.0e+00' : datum.value > 1.19 ? '1.2e+00' : format(datum.value, '~g')", "labelFontSize": 7, "labelColor": "#555", "labelOffset": 3, "labelOverlap": false, "encoding": {"labels": {"baseline": {"value": "middle"}}}}}
}
}
},
{
"data": {"name": "co2"},
"facet": {"column": {"field": "t", "type": "ordinal", "header": {"title": null, "labelOrient": "bottom", "labelExpr": "'t = ' + datum.value + 's'", "labelFont": "Liberation Serif", "labelFontSize": 15, "labelPadding": 6, "labelColor": "black"}}},
"spacing": 6,
"spec": {
"width": 92, "height": 92,
"mark": {"type": "rect", "strokeOpacity": 0, "width": 3, "clip": true},
"encoding": {
"x": {"field": "i", "type": "ordinal", "axis": null, "scale": {"paddingInner": 0, "paddingOuter": 0}},
"y": {"datum": "r", "type": "nominal", "scale": {"paddingInner": 0, "paddingOuter": 0}, "axis": {"title": ["dcᴄᴏ₂", "––––", "dx"], "labels": false, "ticks": false, "domain": false, "grid": false, "titleFont": "Liberation Serif", "titleFontStyle": "italic", "titleFontWeight": "normal", "titleFontSize": 22, "titleLineHeight": 11, "titlePadding": 5, "titleColor": "black"}},
"fill": {"field": "v", "type": "quantitative", "legend": null, "scale": {"domain": [-1.2, -1.05, -0.9, -0.75, -0.6, -0.45, -0.3, -0.15, 0], "range": ["#2E3B96", "#4C65B7", "#6E89C6", "#90A2C2", "#ACACAC", "#BF9987", "#BE7860", "#AD4B3C", "#8C031E"], "interpolate": "rgb"}},
"stroke": {"field": "v", "type": "quantitative", "scale": {"domain": [-1.2, -0.9, -0.6, -0.3, 0], "range": ["#3B4CC0", "#8DB0FE", "#DDDDDD", "#F49A7B", "#B40426"], "interpolate": "rgb"},
"legend": {"title": null, "orient": "none", "legendX": 589, "legendY": 7, "padding": 0, "direction": "vertical", "gradientLength": 83, "gradientThickness": 5, "gradientStrokeWidth": 0, "values": [-1.2, -1.1, -1, -0.9, -0.8, -0.7, -0.6, -0.5, -0.4, -0.3, -0.2, 0], "labelExpr": "datum.value == 0 ? '0.0e+00' : datum.value < -1.19 ? '-1.2e+00' : format(datum.value, '~g')", "labelFontSize": 7, "labelColor": "#555", "labelOffset": 3, "labelOverlap": false, "encoding": {"labels": {"baseline": {"value": "middle"}}}}}
}
}
}
]
}
